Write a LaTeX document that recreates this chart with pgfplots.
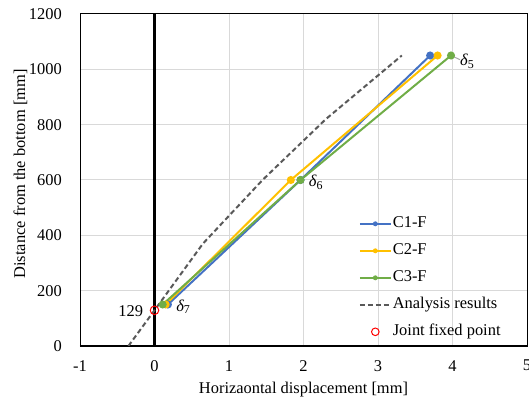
\documentclass[border=0pt]{standalone}
\usepackage{pgfplots}
\pgfplotsset{compat=1.18}
\usepackage{fontspec}
\setmainfont{Liberation Serif}
\definecolor{cblue}{HTML}{4472C4}
\definecolor{cyel}{HTML}{FFC000}
\definecolor{cgreen}{HTML}{70AD47}
\definecolor{cdash}{HTML}{595959}
\definecolor{cgrid}{HTML}{D9D9D9}
\pgfplotsset{
  lineonly legend/.style={legend image code/.code={\draw[##1] (0bp,0bp) -- (31bp,0bp);}},
  circle legend/.style={legend image code/.code={\draw[##1] (15.5bp,0bp) circle (3.8bp);}},
}
\newcommand{\dl}[1]{{\itshape δ}\raisebox{-0.35ex}{\fontsize{12}{13}\selectfont #1}}
\begin{document}
\fontsize{16.5}{19}\selectfont
\begin{tikzpicture}
\begin{axis}[
  scale only axis, width=447bp, height=332bp,
  xmin=-1, xmax=5, ymin=0, ymax=1200,
  xtick={-1,0,...,5}, ytick={0,200,...,1200},
  grid=major, major grid style={cgrid, line width=1pt},
  major tick length=0pt,
  axis line style={black, line width=1pt},
  tick label style={font=\fontsize{16.5}{19}\selectfont, inner sep=0pt},
  /pgf/number format/assume math mode=true,
  /pgf/number format/.cd, 1000 sep={}, /pgfplots/.cd,
  xticklabel style={anchor=north, yshift=-14bp},
  yticklabel style={anchor=east, xshift=-18bp},
  legend style={draw=none, fill=none, at={(axis cs:2.74,18)}, anchor=south west,
    font=\fontsize{16.5}{19}\selectfont, row sep=9bp, inner sep=0pt,
    nodes={inner sep=1bp, text height=12bp, text depth=4bp}},
  legend cell align=left,
  legend image code/.code={
    \draw[#1] (0bp,0bp) -- (31bp,0bp);
    \fill[#1,draw=none] (15.5bp,0bp) circle (2.5bp);},
]
\addplot[black, line width=2.5pt, forget plot] coordinates {(0,0) (0,1200)};
\addplot[black, line width=2.5pt, forget plot] coordinates {(-1,0) (5,0)};
\addplot[cblue, line width=2pt, mark=*, mark size=3pt] coordinates {(0.18,150) (1.96,600) (3.70,1050)};
\addlegendentry{C1-F}
\addplot[cyel, line width=2pt, mark=*, mark size=3pt] coordinates {(0.15,150) (1.83,600) (3.80,1050)};
\addlegendentry{C2-F}
\addplot[cgreen, line width=2pt, mark=*, mark size=3pt] coordinates {(0.11,150) (1.96,600) (3.98,1050)};
\addlegendentry{C3-F}
\addplot[cdash, line width=2pt, dash pattern=on 5pt off 3pt, lineonly legend] coordinates {(-0.35,0) (0.0,129) (0.65,370) (1.45,600) (2.3,820) (3.32,1050)};
\addlegendentry{Analysis results}
\addplot[only marks, red, mark=o, mark size=4.3pt, line width=1pt, circle legend] coordinates {(0.0,129)};
\addlegendentry{Joint fixed point}
\draw[gray!70, line width=1pt] (axis cs:3.98,1050) -- (axis cs:4.10,1035);
\node[anchor=west, inner sep=0pt] at (axis cs:4.10,1030) {\dl{5}};
\node[anchor=west, inner sep=0pt] at (axis cs:2.07,592) {\dl{6}};
\node[anchor=west, inner sep=0pt] at (axis cs:0.29,142) {\dl{7}};
\node[anchor=east, inner sep=0pt] at (axis cs:-0.15,126) {129};
\end{axis}
\node[anchor=base] at ([yshift=-47bp]current axis.south) {Horizaontal displacement [mm]};
\node[rotate=90, anchor=base] at ([xshift=-55bp, yshift=6bp]current axis.west) {Distance from the bottom [mm]};
\pgfresetboundingbox
\path[use as bounding box] ([xshift=-80bp, yshift=-54bp]current axis.south west) rectangle ([xshift=2bp, yshift=14bp]current axis.north east);
\end{tikzpicture}
\end{document}
